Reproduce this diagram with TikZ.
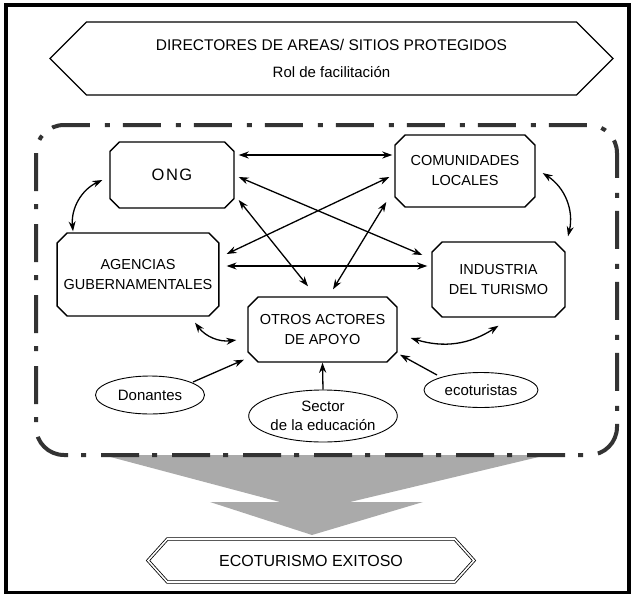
\documentclass[tikz,border=0pt]{standalone}
\usepackage{fontspec}
\setmainfont{Liberation Sans}
\usetikzlibrary{arrows.meta, positioning, shapes.misc, shapes.symbols, shapes.geometric}
\definecolor{ringgray}{HTML}{333333}
\definecolor{funnelgray}{HTML}{AAAAAA}

\begin{document}
\begin{tikzpicture}[
  x=1pt, y=-1pt,
  actor/.style={draw, line width=1.4pt, chamfered rectangle, chamfered rectangle xsep=6.5pt,
    inner sep=0pt, align=center, font=\fontsize{14.5}{20}\selectfont},
  source/.style={draw, ellipse, line width=0.9pt, inner sep=0pt, align=center,
    font=\fontsize{15}{19}\selectfont},
  banner/.style={draw, signal, signal to=west and east, inner sep=0pt, align=center},
  link/.style={{Stealth[length=10pt,width=7pt]}-{Stealth[length=10pt,width=7pt]}, line width=1.3pt},
  feed/.style={-{Stealth[length=10pt,width=7pt]}, line width=1.3pt}
]
  \useasboundingbox (0,0) rectangle (633,598);
  \draw[line width=3.5pt] (6,5) rectangle (629,592.5);

  % --- header ---
  \node[banner, line width=1.2pt, signal pointer angle=90, minimum width=563pt, minimum height=73pt,
    font=\fontsize{15.5}{27}\selectfont] (director) at (331.5,58.5)
    {DIRECTORES DE AREAS/ SITIOS PROTEGIDOS\\{\fontsize{15}{27}\selectfont Rol de facilitaci\'on}};

  % --- funnel ---
  \fill[funnelgray] (103,455) -- (280,502) -- (210,502) -- (312,535) -- (423,502)
    -- (350,502) -- (547,455) -- cycle;

  % --- ring ---
  \draw[ringgray, line width=4pt, rounded corners=28pt,
    dash pattern=on 38pt off 13pt on 5pt off 15pt] (36,125) rectangle (617,455);

  % --- actors ---
  \node[actor, minimum width=124pt, minimum height=66pt, font=\fontsize{16.5}{20}\selectfont]
    (ong) at (172,175) {O\kern1.5pt N\kern1.5pt G};
  \node[actor, minimum width=140pt, minimum height=72pt] (comun) at (465,171) {COMUNIDADES\\LOCALES};
  \node[actor, minimum width=160pt, minimum height=83pt] (agen) at (138,274.5) {AGENCIAS\\GUBERNAMENTALES};
  \node[actor, minimum width=133pt, minimum height=75pt] (indus) at (498.5,279.5) {INDUSTRIA\\DEL TURISMO};
  \node[actor, minimum width=149pt, minimum height=65pt] (otros) at (322.5,329.5) {OTROS ACTORES\\DE APOYO};

  % --- sources ---
  \node[source, minimum width=109pt, minimum height=38pt] (donantes) at (150,395) {Donantes};
  \node[source, minimum width=147pt, minimum height=52pt] (sector) at (323,416) {Sector\\de la educaci\'on};
  \node[source, minimum width=114pt, minimum height=35pt] (ecot) at (481,390) {ecoturistas};

  % --- goal ---
  \node[banner, line width=0.8pt, double, double distance=1.6pt, signal pointer angle=96,
    minimum width=326pt, minimum height=43pt, font=\fontsize{16}{18}\selectfont]
    (goal) at (311,560.5) {ECOTURISMO EXITOSO};

  % straight links
  \draw[link] ([shift={(4pt,20pt)}]ong.east) -- ([shift={(-2pt,16pt)}]comun.west);
  \draw[link] ([shift={(4pt,-2pt)}]ong.east) -- ([shift={(-9pt,24.5pt)}]indus.west);
  \draw[link] ([shift={(-5pt,-6pt)}]comun.west) -- ([shift={(7pt,20.5pt)}]agen.east);
  \draw[link] ([shift={(7pt,8.5pt)}]agen.east) -- ([shift={(-4pt,13.5pt)}]indus.west);
  \draw[link] ([shift={(4pt,-25pt)}]ong.east) -- ([shift={(-14.5pt,10pt)}]otros.north);
  \draw[link] ([shift={(-8pt,-31pt)}]comun.west) -- ([shift={(10.5pt,7pt)}]otros.north);

  % curved links
  \draw[link] ([shift={(-7pt,-5pt)}]ong.west) to[bend right=35] ([shift={(-65pt,1pt)}]agen.north);
  \draw[link] ([shift={(7pt,-2pt)}]comun.east) to[bend left=35] ([shift={(69.5pt,5pt)}]indus.north);
  \draw[link] ([shift={(57pt,-6pt)}]agen.south) to[bend right=30] ([shift={(-11pt,-10.5pt)}]otros.west);
  \draw[link] ([shift={(13pt,-8.5pt)}]otros.east) to[bend right=25] ([shift={(0pt,-8pt)}]indus.south);

  % feeds
  \draw[feed] ([shift={(43pt,13pt)}]donantes.center) -- ([shift={(-78.5pt,3pt)}]otros.south);
  \draw[feed] (sector.north) -- (otros.south);
  \draw[feed] ([shift={(-44pt,15pt)}]ecot.center) -- ([shift={(77.5pt,8pt)}]otros.south);
\end{tikzpicture}
\end{document}
